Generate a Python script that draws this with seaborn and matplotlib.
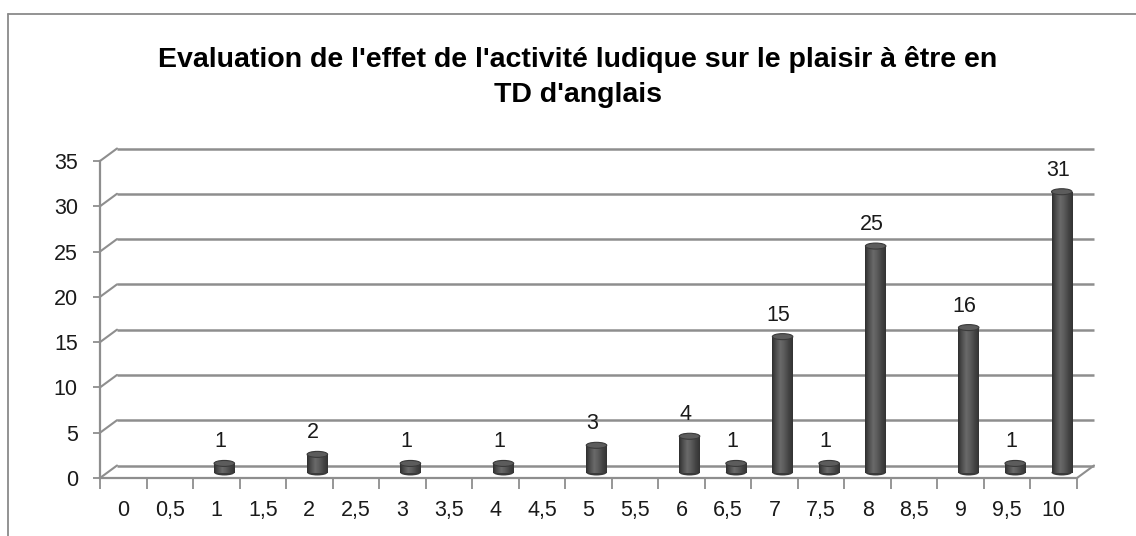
import numpy as np
import pandas as pd
import matplotlib
matplotlib.use("Agg")
import matplotlib.pyplot as plt
import seaborn as sns
from matplotlib.transforms import ScaledTranslation
from matplotlib.patches import Ellipse
from matplotlib.lines import Line2D
from matplotlib.colors import LinearSegmentedColormap

# Survey answers: score given (0 to 10, half-point steps) and number of students
categories = ["0", "0,5", "1", "1,5", "2", "2,5", "3", "3,5", "4", "4,5", "5",
              "5,5", "6", "6,5", "7", "7,5", "8", "8,5", "9", "9,5", "10"]
counts = [0, 0, 1, 0, 2, 0, 1, 0, 1, 0, 3, 0, 4, 1, 15, 1, 25, 0, 16, 1, 31]
y_ticks = [0, 5, 10, 15, 20, 25, 30, 35]
title = "Evaluation de l'effet de l'activité ludique sur le plaisir à être en\nTD d'anglais"

sns.set_theme(style="white")
plt.rcParams["font.family"] = ["Liberation Sans", "DejaVu Sans"]

W, H, DPI = 1136, 536, 100
fig = plt.figure(figsize=(W / DPI, H / DPI), dpi=DPI)
fig.patch.set_facecolor("white")

# front plane of the pseudo-3D plot box (pixels)
left, right, bottom, top = 100, 1077, 478, 161
ax = fig.add_axes([left / W, (H - bottom) / H, (right - left) / W, (bottom - top) / H])
ax.set_facecolor("none")

df = pd.DataFrame({"note": categories, "n": counts})
sns.barplot(data=df, x="note", y="n", color="#4d4d4d", width=0.44,
            ax=ax, zorder=4, edgecolor="none", linewidth=0)

ax.set_xlim(-0.5, len(categories) - 0.5)
ax.set_ylim(0, 35)

px = fig.dpi_scale_trans
back_shift = ScaledTranslation(17 / DPI, 12.5 / DPI, px)   # back wall depth
bar_shift = ScaledTranslation(8 / DPI, 5.5 / DPI, px)      # bars sit mid-depth

# convert the depth offset to data units for the diagonal edges
ppu_x = (right - left) / len(categories)
ppu_y = (bottom - top) / 35
dx, dy = 17 / ppu_x, 12.5 / ppu_y

grid_col = "#8e8e8e"
x0, x1 = -0.5, len(categories) - 0.5
for v in y_ticks:
    ax.plot([x0, x1], [v, v], color=grid_col, lw=1.8, transform=ax.transData + back_shift,
            clip_on=False, zorder=1, solid_capstyle="butt")
    ax.plot([x0, x0 + dx], [v, v + dy], color=grid_col, lw=1.5, clip_on=False, zorder=1)
# right floor edge
ax.plot([x1, x1 + dx], [0, dy], color=grid_col, lw=1.5, clip_on=False, zorder=1)

# cylinder shading for the bars
cyl = LinearSegmentedColormap.from_list(
    "cyl", ["#2f2f2f", "#505050", "#6a6a6a", "#5a5a5a", "#444444", "#333333"])
grad = np.linspace(0, 1, 64).reshape(1, -1)
cap_h = 6 / ppu_y
for patch, val in zip(ax.patches, counts):
    patch.set_transform(ax.transData + bar_shift)
    if val <= 0:
        patch.set_visible(False)
        continue
    bx, bw = patch.get_x(), patch.get_width()
    cx = bx + bw / 2
    img = ax.imshow(grad, cmap=cyl, aspect="auto", extent=[bx, bx + bw, 0, val],
                    transform=ax.transData + bar_shift, zorder=5, interpolation="bilinear")
    img.set_clip_path(patch)
    # rounded bottom and top of the cylinder
    ax.add_patch(Ellipse((cx, 0), bw, cap_h, facecolor="#3a3a3a", edgecolor="none",
                         transform=ax.transData + bar_shift, zorder=3.9, clip_on=False))
    ax.add_patch(Ellipse((cx, val), bw, cap_h, facecolor="#5c5c5c", edgecolor="#3a3a3a",
                         lw=0.8, transform=ax.transData + bar_shift, zorder=6, clip_on=False))
    ax.annotate(str(val), (cx, val), xytext=(4, 27), textcoords="offset pixels",
                ha="center", va="center", fontsize=15.5, color="#1a1a1a", zorder=7)

ax.set_xlim(-0.5, len(categories) - 0.5)
ax.set_ylim(0, 35)

# axes styling
for s in ["top", "right"]:
    ax.spines[s].set_visible(False)
for s in ["left", "bottom"]:
    ax.spines[s].set_color(grid_col)
    ax.spines[s].set_linewidth(1.6)
    ax.spines[s].set_zorder(2)

ax.set_yticks(y_ticks)
ax.set_yticklabels([str(v) for v in y_ticks])
ax.set_xticks(range(len(categories)))
ax.set_xticklabels(categories)
ax.set_xticks(np.arange(-0.5, len(categories), 1.0), minor=True)
ax.tick_params(axis="y", which="major", direction="out", length=5, width=1.3,
               color=grid_col, pad=11, labelsize=15.5, labelcolor="#1a1a1a", left=True)
ax.tick_params(axis="x", which="major", length=0, pad=16, labelsize=15.5,
               labelcolor="#1a1a1a", bottom=True)
ax.tick_params(axis="x", which="minor", direction="out", length=8, width=1.3,
               color=grid_col, bottom=True)
ax.set_xlabel("")
ax.set_ylabel("")
ax.grid(False)

fig.text(578 / W, 1 - 77 / H, title, ha="center", va="center", fontsize=20.5,
         fontweight="bold", color="#000000", linespacing=1.45)

# chart frame
fig.add_artist(Line2D([8 / W, 8 / W], [0, 1 - 14 / H], color="#8a8a8a", lw=1.3))
fig.add_artist(Line2D([8 / W, 1], [1 - 14 / H, 1 - 14 / H], color="#8a8a8a", lw=1.3))

fig.savefig("out.png", dpi=DPI, facecolor="white")
